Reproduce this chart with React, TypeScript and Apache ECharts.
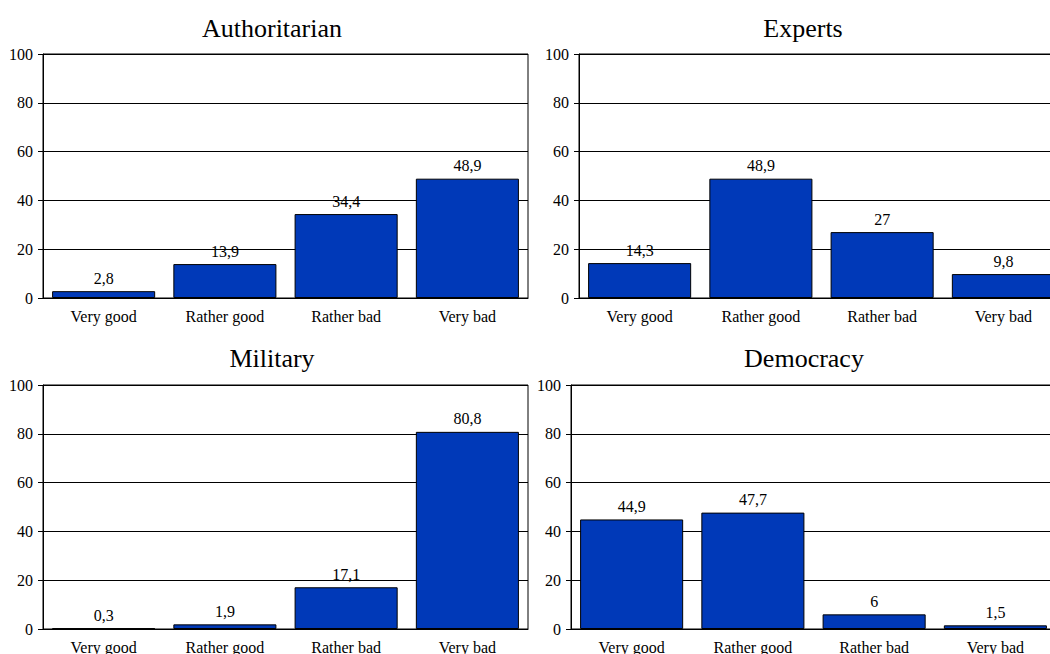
import React, { useEffect, useRef } from "react";
import * as echarts from "echarts";

const categories = ["Very good", "Rather good", "Rather bad", "Very bad"];
const titles = ["Authoritarian", "Experts", "Military", "Democracy"];
const authoritarian = [2.8, 13.9, 34.4, 48.9];
const experts = [14.3, 48.9, 27, 9.8];
const military = [0.3, 1.9, 17.1, 80.8];
const democracy = [44.9, 47.7, 6, 1.5];
const yTicks = [0, 20, 40, 60, 80, 100];

const FONT = "Liberation Serif";

const panels = [
  { data: authoritarian, grid: { left: 43, top: 54 }, title: { x: 272, y: 28 } },
  { data: experts, grid: { left: 579, top: 54 }, title: { x: 803, y: 28 } },
  { data: military, grid: { left: 43, top: 385 }, title: { x: 272, y: 358 } },
  { data: democracy, grid: { left: 571, top: 385 }, title: { x: 804, y: 358 } },
];

export default function App() {
  const ref = useRef<HTMLDivElement>(null);
  useEffect(() => {
    if (!ref.current) return;
    const chart = echarts.init(ref.current, undefined, { renderer: "svg" });
    const option: any = {
      animation: false,
      backgroundColor: "#fff",
      textStyle: { fontFamily: FONT },
      grid: panels.map((p) => ({
        left: p.grid.left,
        top: p.grid.top,
        width: 485,
        height: 244,
        show: true,
        borderColor: "#000",
        borderWidth: 1,
        backgroundColor: "transparent",
        containLabel: false,
        outerBoundsMode: "none",
      })),
      xAxis: panels.map((_, i) => ({
        type: "category",
        gridIndex: i,
        data: categories,
        axisLine: { show: true, lineStyle: { color: "#000", width: 1 } },
        axisTick: { show: false },
        axisLabel: { color: "#000", fontSize: 16, fontFamily: FONT, margin: 10, interval: 0 },
      })),
      yAxis: panels.map((_, i) => ({
        type: "value",
        gridIndex: i,
        min: yTicks[0],
        max: yTicks[yTicks.length - 1],
        interval: 20,
        axisLine: { show: true, lineStyle: { color: "#000", width: 1 } },
        axisTick: { show: true, length: 5, lineStyle: { color: "#000" } },
        axisLabel: { color: "#000", fontSize: 16, fontFamily: FONT, margin: 10 },
        splitLine: { show: true, lineStyle: { color: "#000", width: 1 } },
      })),
      series: panels.map((p, i) => ({
        type: "bar",
        xAxisIndex: i,
        yAxisIndex: i,
        data: p.data,
        barCategoryGap: "15%",
        itemStyle: { color: "#0039B8", borderColor: "#000", borderWidth: 1 },
        label: {
          show: true,
          position: "top",
          distance: 5,
          color: "#000",
          fontSize: 16,
          fontFamily: FONT,
          formatter: (d: any) => String(d.value).replace(".", ","),
        },
      })),
      graphic: panels.map((p, i) => ({
        type: "text",
        x: p.title.x,
        y: p.title.y,
        style: {
          text: titles[i],
          font: `26px ${FONT}`,
          fill: "#000",
          textAlign: "center",
          textVerticalAlign: "middle",
        },
      })),
    };
    chart.setOption(option);
    return () => chart.dispose();
  }, []);
  return (
    <div
      ref={ref}
      style={{ position: "absolute", left: 0, top: 0, width: 1050, height: 654 }}
    />
  );
}
